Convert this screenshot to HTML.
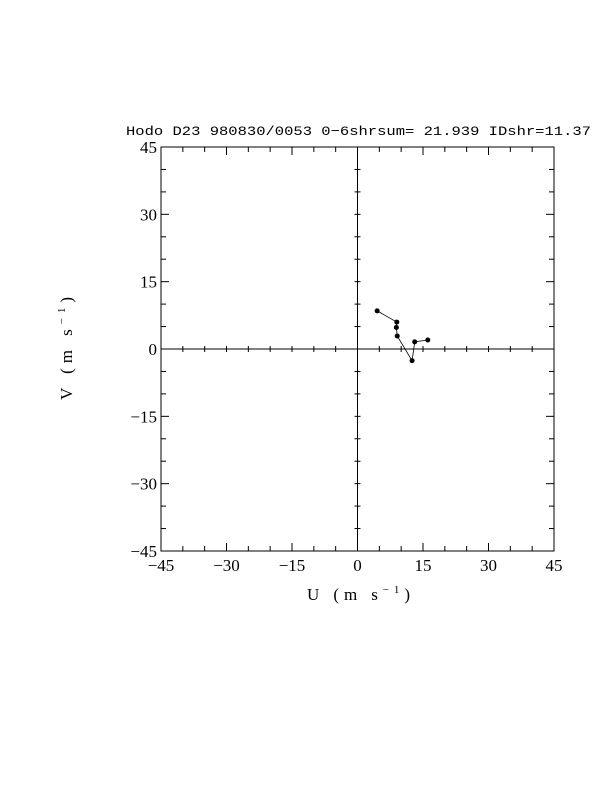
<!DOCTYPE html>
<html><head><meta charset="utf-8"><style>
body{margin:0;background:#fff;}
svg text{font-family:"Liberation Serif",serif;fill:#000;}
</style></head><body>
<svg id="c" width="612" height="792" xmlns="http://www.w3.org/2000/svg">
<text x="126" y="135" font-size="13" textLength="465" lengthAdjust="spacingAndGlyphs" style="font-family:'Liberation Mono',monospace">Hodo D23 980830/0053 0−6shrsum= 21.939 IDshr=11.37</text>
<rect x="161" y="147" width="393" height="404" fill="none" stroke="#000" stroke-width="1"/>
<g id="ticks"></g>
<g id="labels"></g>
<text x="307" y="600" font-size="17" textLength="103" lengthAdjust="spacing">U  (m  s<tspan font-size="11" dy="-7">−1</tspan><tspan dy="7">)</tspan></text>
<text transform="translate(72,400) rotate(-90)" font-size="17" textLength="103" lengthAdjust="spacing">V  (m  s<tspan font-size="11" dy="-7">−1</tspan><tspan dy="7">)</tspan></text>
<g id="series"></g>
</svg>
<script>
const us=[4.5,9.0,8.9,9.1,12.5,13.1,16.1];
const vs=[8.5,6.0,4.8,2.9,-2.6,1.6,2.0];
const tickVals=[-45,-30,-15,0,15,30,45];
const tickLabels=["−45","−30","−15","0","15","30","45"];
const NS="http://www.w3.org/2000/svg";
const X0=161,X1=554,Y0=551,Y1=147;
const sx=u=>X0+(u+45)/90*(X1-X0);
const sy=v=>Y0-(v+45)/90*(Y0-Y1);
function mk(t,a,p){const e=document.createElementNS(NS,t);for(const k in a)e.setAttribute(k,a[k]);p.appendChild(e);return e;}
const tg=document.getElementById('ticks');
mk('line',{x1:sx(0),y1:Y1,x2:sx(0),y2:Y0,stroke:'#000'},tg);
mk('line',{x1:X0,y1:sy(0),x2:X1,y2:sy(0),stroke:'#000'},tg);
for(let v=-45;v<=45;v+=5){
 const L=(v%15===0)?8:5;
 const x=sx(v),y=sy(v);
 mk('line',{x1:x,y1:Y0,x2:x,y2:Y0-L,stroke:'#000'},tg);
 mk('line',{x1:x,y1:Y1,x2:x,y2:Y1+L,stroke:'#000'},tg);
 mk('line',{x1:X0,y1:y,x2:X0+L,y2:y,stroke:'#000'},tg);
 mk('line',{x1:X1,y1:y,x2:X1-L,y2:y,stroke:'#000'},tg);
 mk('line',{x1:x,y1:sy(0)-3,x2:x,y2:sy(0)+3,stroke:'#000'},tg);
 mk('line',{x1:sx(0)-3,y1:y,x2:sx(0)+3,y2:y,stroke:'#000'},tg);
}
const lg=document.getElementById('labels');
tickVals.forEach((v,i)=>{
 const a=mk('text',{x:sx(v),y:Y0+20,'font-size':17,'text-anchor':'middle'},lg);a.textContent=tickLabels[i];
 
 
 const b=mk('text',{x:X0-4,y:sy(v)+6,'font-size':17,'text-anchor':'end'},lg);b.textContent=tickLabels[i];
 
 
});
const sg=document.getElementById('series');
const pl=mk('polyline',{points:us.map((u,i)=>sx(u)+','+sy(vs[i])).join(' '),fill:'none',stroke:'#000','stroke-width':0.8},sg);


us.forEach((u,i)=>{
 const c=mk('circle',{cx:sx(u),cy:sy(vs[i]),r:2.5,fill:'#000'},sg);
 
 
});
</script>
</body></html>
